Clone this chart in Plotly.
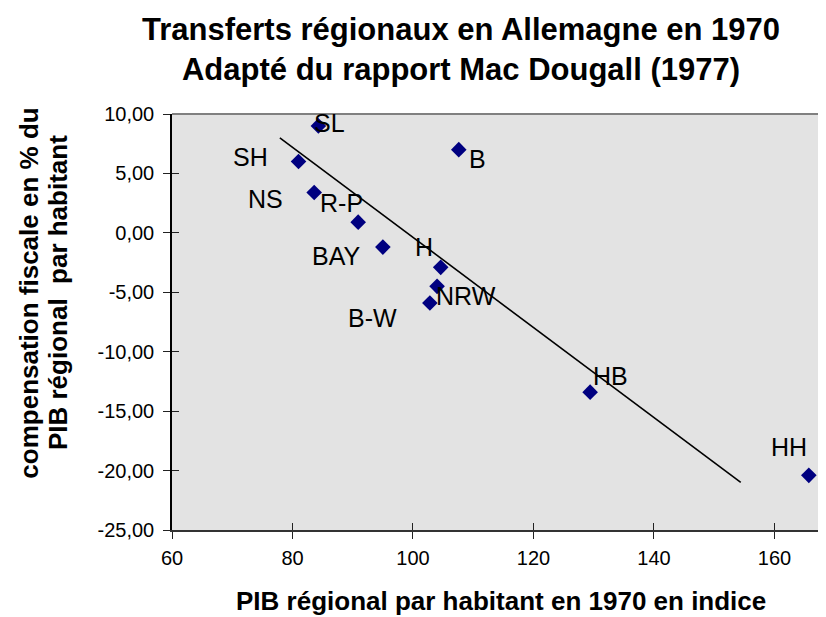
import plotly.graph_objects as go

# ---- data ----
regions = ["SL", "SH", "B", "NS", "R-P", "BAY", "H", "NRW", "B-W", "HB", "HH"]
pib_index = [84.3, 81.0, 107.6, 83.6, 90.9, 95.0, 104.6, 104.0, 102.8, 129.4, 165.7]
compensation = [9.0, 6.0, 7.0, 3.4, 0.9, -1.2, -2.9, -4.5, -5.9, -13.4, -20.4]

trend_x = [77.9, 154.4]
trend_y = [8.0, -21.0]

x_ticks = [60, 80, 100, 120, 140, 160]
y_ticks = [-25, -20, -15, -10, -5, 0, 5, 10]
y_tick_labels = ["-25,00", "-20,00", "-15,00", "-10,00", "-5,00", "0,00", "5,00", "10,00"]

title_lines = ["Transferts régionaux en Allemagne en 1970",
               "Adapté du rapport Mac Dougall (1977)"]
x_title = "PIB régional par habitant en 1970 en indice"
y_title_lines = ["compensation fiscale en % du", "PIB régional  par habitant"]

# label offsets in pixels (dx, dy up)
label_offsets = {
    "SL": (11, 3), "SH": (-48, 5), "B": (19, -9), "NS": (-49, -7),
    "R-P": (-17, 19), "BAY": (-47, -9), "H": (-17, 20), "NRW": (29, -10),
    "B-W": (-57, -15), "HB": (20, 16), "HH": (-20, 28),
}

FONT = "Arial, Liberation Sans, sans-serif"
X_RANGE = [60, 168.55]
Y_RANGE = [-25, 10]

fig = go.Figure()

fig.add_trace(go.Scatter(
    x=pib_index, y=compensation, mode="markers",
    marker=dict(symbol="diamond", size=12, color="#000080",
                line=dict(width=0)),
    showlegend=False, hoverinfo="x+y",
))

fig.add_trace(go.Scatter(
    x=trend_x, y=trend_y, mode="lines",
    line=dict(color="black", width=1.6),
    xaxis="x2", yaxis="y2", showlegend=False, hoverinfo="skip",
))

annotations = []
for name, xv, yv in zip(regions, pib_index, compensation):
    dx, dy = label_offsets[name]
    annotations.append(dict(
        x=xv, y=yv, xref="x", yref="y", text=name, showarrow=False,
        xshift=dx, yshift=dy, xanchor="center", yanchor="middle",
        font=dict(family=FONT, size=25, color="black"),
    ))

annotations.append(dict(
    x=0.442, y=1.156, xref="paper", yref="paper",
    text="<br>".join(title_lines), showarrow=False,
    xanchor="center", yanchor="middle", align="center",
    font=dict(family=FONT, size=31, color="black", weight="bold"),
))
annotations.append(dict(
    x=0.503, y=-0.17, xref="paper", yref="paper",
    text=x_title, showarrow=False, xanchor="center", yanchor="middle",
    font=dict(family=FONT, size=26, color="black", weight="bold"),
))
for i, (line, xp) in enumerate(zip(y_title_lines, [-0.219, -0.174])):
    annotations.append(dict(
        x=xp, y=0.57, xref="paper", yref="paper",
        text=line, showarrow=False, textangle=-90,
        xanchor="center", yanchor="middle", align="center",
        font=dict(family=FONT, size=26, color="black", weight="bold"),
    ))

tickfont = dict(family=FONT, size=20, color="black")

fig.update_layout(
    width=818, height=609,
    margin=dict(l=164, r=0, t=106, b=87),
    paper_bgcolor="white",
    plot_bgcolor="#E3E3E3",
    showlegend=False,
    annotations=annotations,
    xaxis=dict(
        range=X_RANGE, tickvals=x_ticks, ticks="outside", ticklen=7,
        tickcolor="#222", tickwidth=1, showgrid=False, zeroline=False,
        showline=True, linecolor="#333", linewidth=2,
        tickfont=tickfont, ticklabelstandoff=2,
    ),
    yaxis=dict(
        range=Y_RANGE, tickvals=y_ticks, ticktext=y_tick_labels,
        ticks="outside", ticklen=7, tickcolor="#222", tickwidth=1,
        showgrid=False, zeroline=False, showline=True, linecolor="black",
        linewidth=1.5, tickfont=tickfont, ticklabelstandoff=5,
    ),
    xaxis2=dict(
        range=X_RANGE, tickvals=x_ticks, ticks="inside", ticklen=7,
        tickcolor="#222", tickwidth=1, showticklabels=False, showgrid=False,
        zeroline=False, showline=False, overlaying="x", anchor="y2",
        side="bottom",
    ),
    yaxis2=dict(
        range=Y_RANGE, tickvals=y_ticks, ticks="inside", ticklen=7,
        tickcolor="#222", tickwidth=1, showticklabels=False, showgrid=False,
        zeroline=False, showline=False, overlaying="y", anchor="x2",
        side="left",
    ),
    shapes=[dict(type="line", xref="paper", yref="paper", x0=0, x1=1,
                 y0=1, y1=1, line=dict(color="#808080", width=2))],
)

fig.write_html("out.html")
